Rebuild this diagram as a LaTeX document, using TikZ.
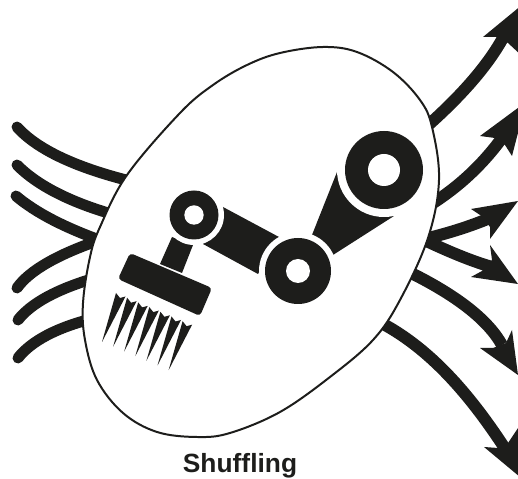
\documentclass[tikz,border=0pt]{standalone}
\usepackage{xcolor}
\usepackage{fontspec}
\setmainfont{Liberation Sans}
\usepackage{tikz}
\definecolor{myblack}{RGB}{29,29,27}
\tikzset{
  strand/.style={draw=myblack, line width=11pt*0.5669, line cap=round},
  shaft/.style={draw=myblack, line width=12pt*0.5669},
  head/.style={fill=myblack},
  part/.style={fill=myblack},
  gap/.style={fill=white}
}
\begin{document}
\begin{tikzpicture}[x=0.02cm, y=-0.02cm]
  \clip (0,0) rectangle (518,479);
  \fill[white] (0,0) rectangle (518,479);
  % Incoming strands
  \draw[strand] (17,127) .. controls (36.7,149) and (74.3,167) .. (130,181);
  \draw[strand] (17,165) .. controls (37.7,185.7) and (70.3,202.3) .. (115,215);
  \draw[strand] (16,196) .. controls (35.7,212.7) and (65.3,228) .. (105,242);
  \draw[strand] (17,288) .. controls (29.3,270.7) and (57,254.7) .. (100,240);
  \draw[strand] (18,320) .. controls (31,303.3) and (56.7,289.3) .. (95,278);
  \draw[strand] (18,358) .. controls (31,341.3) and (56.7,327.3) .. (95,318);
  % Outgoing arrows
  \draw[shaft] (425,128) .. controls (462.7,94.7) and (489,64) .. (504,36);
  \fill[head] (483,37) -- (497,37) -- (508,43) -- (522,56) -- (528,0) -- cycle;
  \draw[shaft] (425,208) .. controls (455.3,190) and (481,166.7) .. (502,138);
  \fill[head] (480,136) -- (495,138) -- (505,145) -- (512,156) -- (526,102) -- cycle;
  \draw[shaft] (420,240) .. controls (446,234) and (469.3,226.7) .. (490,218);
  \fill[head] (471,209) -- (483,217) -- (490,227) -- (490,239) -- (518,201) -- cycle;
  \draw[shaft] (420,238) .. controls (452,253.3) and (477.3,263.3) .. (496,268);
  \fill[head] (490,245) -- (492,260) -- (482,271) -- (471,277) -- (518,284) -- cycle;
  \draw[shaft] (405,270) .. controls (455.3,294.3) and (487.7,319.3) .. (502,345);
  \fill[head] (512,330) -- (506,343) -- (493,348) -- (480,348) -- (518,375) -- cycle;
  \draw[shaft] (385,325) .. controls (430,350) and (468,392) .. (504,447);
  \fill[head] (520,425) -- (508,443) -- (498,448) -- (484,447) -- (526,482) -- cycle;
  % Egg outline
  \draw[line width=2pt*0.5669, draw=myblack, fill=white] plot[smooth cycle, tension=0.6] coordinates {
    (323,47) (357,52) (393,72) (420,100) (432,127) (439,180) (428,238) (400,300)
    (373,340) (330,377) (280,412) (230,433) (197,437) (157,432) (123,413) (97,380)
    (85,340) (83,303) (90,257) (100,227) (127,175) (180,113) (213,85) (247,65) (280,53)};
  % Robot arm
  \coordinate (jtop) at (384,170);
  \coordinate (jmid) at (298,271);
  \coordinate (jend) at (194,215);
  \fill[part] (223,207) -- (279,237) -- (258,274) -- (203,244) -- cycle;
  \fill[part] (337,172) -- (310,240) -- (322,262) -- (394,216) -- cycle;
  \fill[part] (172,237) -- (160,264) -- (182,273) -- (193,245) -- cycle;
  \fill[part, rounded corners=2pt] (130,253) -- (212,288) -- (200,316) -- (118,279) -- cycle;
  \foreach \j/\ro/\rg/\ri in {jtop/39/47/16, jmid/33/39/12, jend/24.5/30/9.7}{
    \fill[gap] (\j) circle (\rg);
    \fill[part] (\j) circle (\ro);
    \fill[gap] (\j) circle (\ri);
  }
  % Spikes of the tool
  \foreach \i in {0,...,6}{
    \fill[part] (116+\i*11.1,293+\i*4.7) -- (120+\i*11.1,298+\i*4.7)
      -- (125.5+\i*11.1,296.5+\i*4.7) -- (102+\i*11.1,342+\i*4.7) -- cycle;
  }
  % Caption
  \node[anchor=base, font=\fontsize{15}{18}\selectfont\bfseries, text=myblack, inner sep=0pt]
    (caption) at (240,473) {Shuffling};
\end{tikzpicture}
\end{document}
